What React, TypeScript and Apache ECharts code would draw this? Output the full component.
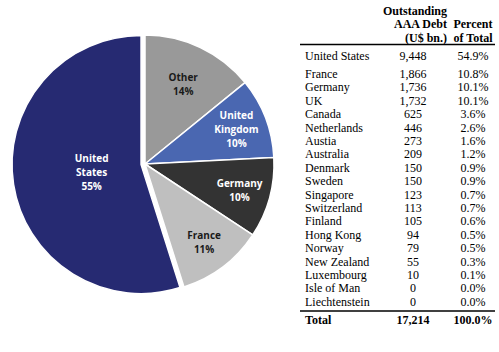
import React, { useEffect, useRef } from "react";
import * as echarts from "echarts";

// Pie data (clockwise from 12 o'clock)
const pieNames = ["Other", "United Kingdom", "Germany", "France", "United States"];
const pieValues = [2432, 1732, 1736, 1866, 9448];
const pieColors = ["#999999", "#4a67b1", "#333333", "#bfbfbf", "#262a72"];
const pieLabelColors = ["#1a1a1a", "#ffffff", "#ffffff", "#1a1a1a", "#ffffff"];

// Table data
const countries = [
  "United States", "France", "Germany", "UK", "Canada", "Netherlands", "Austia",
  "Australia", "Denmark", "Sweden", "Singapore", "Switzerland", "Finland",
  "Hong Kong", "Norway", "New Zealand", "Luxembourg", "Isle of Man", "Liechtenstein",
];
const debt = [
  "9,448", "1,866", "1,736", "1,732", "625", "446", "273", "209", "150", "150",
  "123", "113", "105", "94", "79", "55", "10", "0", "0",
];
const percents = [
  "54.9%", "10.8%", "10.1%", "10.1%", "3.6%", "2.6%", "1.6%", "1.2%", "0.9%", "0.9%",
  "0.7%", "0.7%", "0.6%", "0.5%", "0.5%", "0.3%", "0.1%", "0.0%", "0.0%",
];
const totalRow = ["Total", "17,214", "100.0%"];
const headerLeft = ["Outstanding", "AAA Debt", "(U$ bn.)"];
const headerRight = ["Percent", "of Total"];

const CX = 145;
const CY = 164;
const R = 129;

export default function App() {
  const ref = useRef<HTMLDivElement>(null);
  useEffect(() => {
    if (!ref.current) return;
    const chart = echarts.init(ref.current, null, { renderer: "svg" });

    const serif = "Liberation Serif";
    const graphics: any[] = [];
    const colNameX = 305;
    const colDebtX = 413;
    const colPctX = 473;
    const headerYs = [11, 24.3, 37.6];
    const txt = (x: number, y: number, text: string, align: string, bold: boolean, lh: number) => ({
      type: "text", x, y,
      style: {
        text, fontFamily: serif, fontSize: 12, fontWeight: bold ? "bold" : "normal",
        fill: "#000", align, verticalAlign: "middle", lineHeight: lh,
      },
    });
    headerLeft.forEach((t, i) => graphics.push(txt(447, headerYs[i], t, "right", true, 12)));
    headerRight.forEach((t, i) => graphics.push(txt(colPctX, headerYs[i + 1], t, "center", true, 12)));
    graphics.push({ type: "line", shape: { x1: 300, y1: 44.5, x2: 495, y2: 44.5 }, style: { stroke: "#000", lineWidth: 1.3 } });
    countries.forEach((c, i) => {
      const y = i === 0 ? 56 : 74 + (i - 1) * 13.4;
      graphics.push(txt(colNameX, y, c, "left", false, 12));
      graphics.push(txt(colDebtX, y, debt[i], "center", false, 12));
      graphics.push(txt(colPctX, y, percents[i], "center", false, 12));
    });
    graphics.push({ type: "line", shape: { x1: 300, y1: 311, x2: 495, y2: 311 }, style: { stroke: "#000", lineWidth: 1.3 } });
    const totY = 319.5;
    graphics.push(txt(colNameX, totY, totalRow[0], "left", true, 12));
    graphics.push(txt(colDebtX, totY, totalRow[1], "center", true, 12));
    graphics.push(txt(colPctX, totY, totalRow[2], "center", true, 12));

    const fmt = (p: any) => p.name.replace(" ", "\n") + "\n" + Math.round(p.percent) + "%";

    const labelPie = (radius: number, which: (i: number) => boolean) => ({
      type: "pie",
      center: [CX, CY],
      radius: [0, radius],
      startAngle: 90,
      clockwise: true,
      silent: true,
      z: 5,
      itemStyle: { color: "rgba(0,0,0,0)", borderWidth: 0 },
      emphasis: { disabled: true },
      labelLine: { show: false },
      data: pieNames.map((n, i) => ({
        name: n,
        value: pieValues[i],
        label: {
          show: which(i),
          position: "inside",
          formatter: fmt,
          color: pieLabelColors[i],
          fontFamily: "Open Sans",
          fontWeight: "bold",
          fontSize: 10,
          lineHeight: 14,
          align: "center",
        },
      })),
    });

    chart.setOption({
      animation: false,
      backgroundColor: "#ffffff",
      graphic: graphics,
      series: [
        {
          type: "pie",
          center: [CX, CY],
          radius: [0, R],
          startAngle: 90,
          clockwise: true,
          selectedMode: "single",
          selectedOffset: 4,
          silent: true,
          label: { show: false },
          labelLine: { show: false },
          itemStyle: { borderColor: "#ffffff", borderWidth: 1.5 },
          data: pieNames.map((n, i) => ({
            name: n,
            value: pieValues[i],
            selected: n === "United States",
            itemStyle: { color: pieColors[i] },
          })),
        },
        labelPie(102, (i) => i === 4),
        labelPie(172, (i) => i === 0),
        labelPie(190, (i) => i > 0 && i < 4),
      ],
    });
    return () => chart.dispose();
  }, []);
  return (
    <div
      ref={ref}
      style={{ position: "absolute", left: 0, top: 0, width: 499, height: 352, background: "#fff" }}
    />
  );
}
